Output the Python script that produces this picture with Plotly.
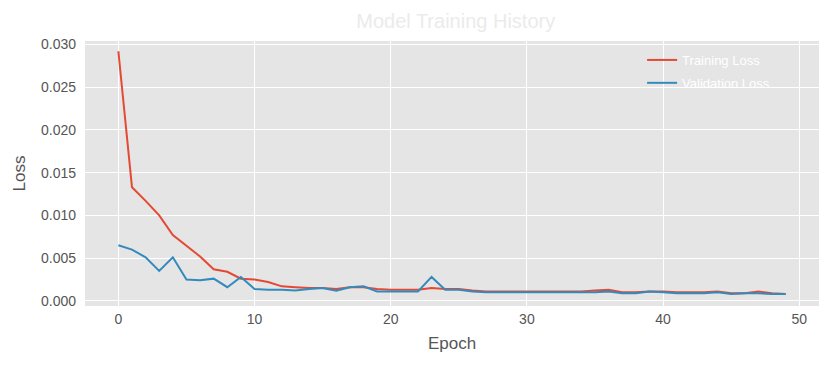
import plotly.graph_objects as go

epochs = list(range(50))
train_loss = [0.0292, 0.0133, 0.0117, 0.0100, 0.0077, 0.0064, 0.0052, 0.0037, 0.0034, 0.0026,
              0.0025, 0.0022, 0.0017, 0.0016, 0.0015, 0.0015, 0.0014, 0.0016, 0.0016, 0.0014,
              0.0013, 0.0013, 0.0013, 0.0015, 0.0014, 0.0014, 0.0012, 0.0011, 0.0011, 0.0011,
              0.0011, 0.0011, 0.0011, 0.0011, 0.0011, 0.0012, 0.0013, 0.0010, 0.0010, 0.0011,
              0.0011, 0.0010, 0.0010, 0.0010, 0.0011, 0.0009, 0.0009, 0.0011, 0.0009, 0.0008]
val_loss = [0.0065, 0.0060, 0.0051, 0.0035, 0.0051, 0.0025, 0.0024, 0.0026, 0.0016, 0.0028,
            0.0014, 0.0013, 0.0013, 0.0012, 0.0014, 0.0015, 0.0012, 0.0016, 0.0017, 0.0011,
            0.0011, 0.0011, 0.0011, 0.0028, 0.0013, 0.0013, 0.0011, 0.0010, 0.0010, 0.0010,
            0.0010, 0.0010, 0.0010, 0.0010, 0.0010, 0.0010, 0.0011, 0.0009, 0.0009, 0.0011,
            0.0010, 0.0009, 0.0009, 0.0009, 0.0010, 0.0008, 0.0009, 0.0009, 0.0008, 0.0008]
series_names = ["Training Loss", "Validation Loss"]
x_ticks = [0, 10, 20, 30, 40, 50]
y_ticks = [0.0, 0.005, 0.010, 0.015, 0.020, 0.025, 0.030]

FONT = "Liberation Sans, Arial, sans-serif"

fig = go.Figure()
fig.add_trace(go.Scatter(x=epochs, y=train_loss, mode="lines", name=series_names[0],
                         legendgroup="a", line=dict(color="#E24A33", width=2)))
fig.add_trace(go.Scatter(x=epochs, y=val_loss, mode="lines", name=series_names[1],
                         legendgroup="b", line=dict(color="#348ABD", width=2)))

fig.update_layout(
    width=823, height=358,
    margin=dict(l=77, r=12, t=33, b=60, autoexpand=False),
    paper_bgcolor="white",
    plot_bgcolor="#E5E5E5",
    font=dict(family=FONT, color="#555555", size=14),
    title=dict(text="Model Training History", x=0.544, xanchor="center", y=0.963, yanchor="middle",
               font=dict(family=FONT, size=20, color="#EBEBEB")),
    showlegend=True,
    legend=dict(x=0.759, y=0.985, xanchor="left", yanchor="top", bgcolor="rgba(0,0,0,0)",
                font=dict(family=FONT, size=13, color="white"), tracegroupgap=3),
    xaxis=dict(range=[-2.45, 51.45], tickvals=x_ticks, showgrid=True, gridcolor="white",
               gridwidth=1.2, zeroline=False, showline=False, ticks="", ticklabelstandoff=3,
               title=dict(text="Epoch", font=dict(size=17, color="#555555"), standoff=11),
               tickfont=dict(size=14, color="#555555")),
    yaxis=dict(range=[-0.0006, 0.0304], tickvals=y_ticks, tickformat=".3f", showgrid=True,
               gridcolor="white", gridwidth=1.2, zeroline=False, showline=False, ticks="",
               ticklabelstandoff=8,
               title=dict(text="Loss", font=dict(size=17, color="#555555"), standoff=11),
               tickfont=dict(size=14, color="#555555")),
)

fig.write_html("out.html")
